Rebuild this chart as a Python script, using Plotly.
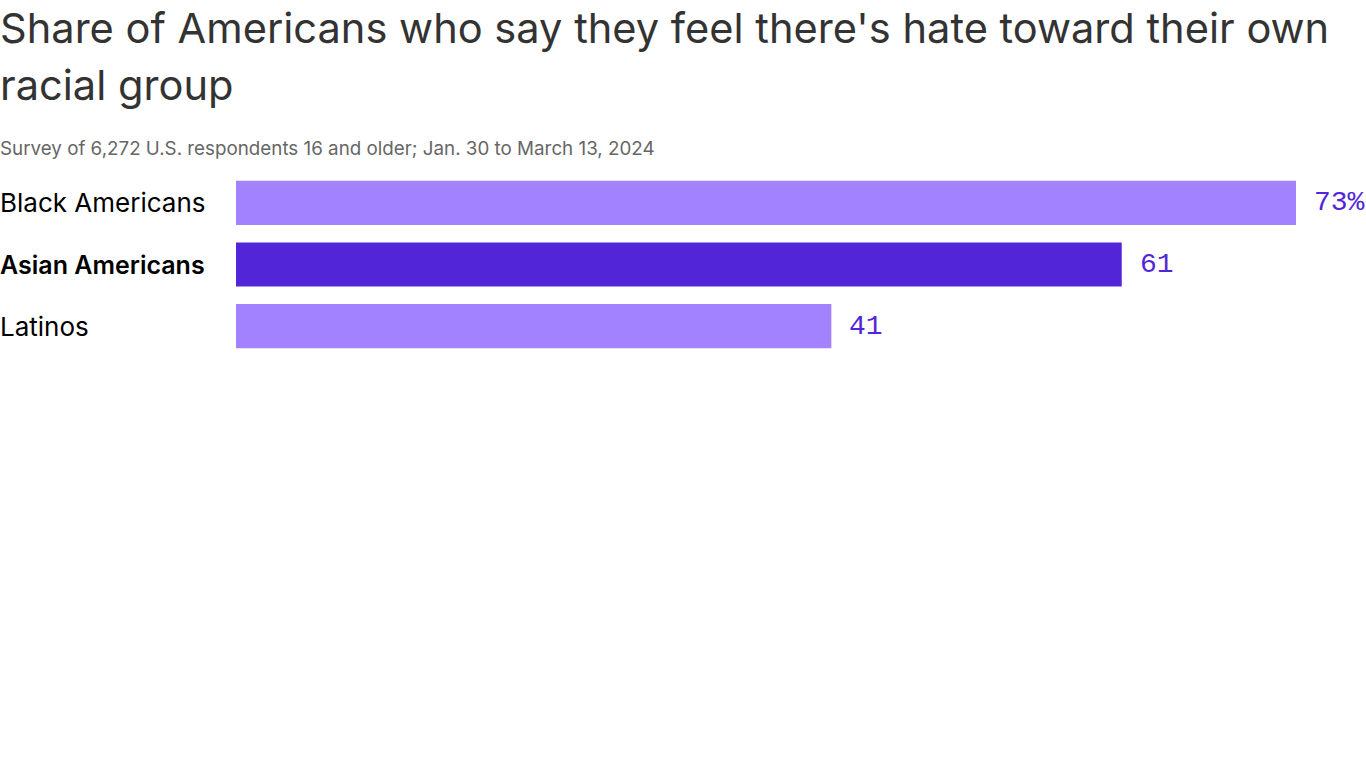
import plotly.graph_objects as go

categories = ["Black Americans", "Asian Americans", "Latinos"]
values = [73, 61, 41]
value_labels = ["73%", "61", "41"]
bar_colors = ["#A282FF", "#5226D8", "#A282FF"]
label_bold = [False, True, False]

title_lines = ["Share of Americans who say they feel there's hate toward their own",
               "racial group"]
subtitle = "Survey of 6,272 U.S. respondents 16 and older; Jan. 30 to March 13, 2024"

W, H = 1366, 768
ML, MT, MB, MR = 236, 172, 411, 0
px_per_unit = 1060 / 73
xmax = (W - ML - MR) / px_per_unit
XS = -ML - 2

fig = go.Figure()
fig.add_trace(go.Bar(
    x=values, y=categories, orientation="h",
    marker=dict(color=bar_colors, line=dict(width=0)),
    hoverinfo="x+y",
))

annotations = []
annotations.append(dict(text=title_lines[0], xref="paper", yref="paper", x=0, xshift=XS,
                        y=1, yshift=MT - 1, xanchor="left", yanchor="top", showarrow=False,
                        font=dict(family="Inter", size=41.6, color="#333333")))
annotations.append(dict(text=title_lines[1], xref="paper", yref="paper", x=0, xshift=XS,
                        y=1, yshift=MT - 58, xanchor="left", yanchor="top", showarrow=False,
                        font=dict(family="Inter", size=41.6, color="#333333")))
annotations.append(dict(text=subtitle, xref="paper", yref="paper", x=0, xshift=XS,
                        y=1, yshift=MT - 135, xanchor="left", yanchor="top", showarrow=False,
                        font=dict(family="Inter", size=18.8, color="#666666")))
for cat, v, lab, b in zip(categories, values, value_labels, label_bold):
    annotations.append(dict(text=cat, xref="paper", yref="y",
                            x=0, xshift=XS, y=cat, xanchor="left", yanchor="middle",
                            showarrow=False,
                            font=dict(family="Inter", size=25 if b else 26, color="#000000",
                                      weight=600 if b else 400)))
    annotations.append(dict(text=lab, xref="x", yref="y", x=v, y=cat, xshift=16,
                            xanchor="left", yanchor="middle", showarrow=False,
                            font=dict(family="Liberation Mono", size=28, color="#5226D8")))

fig.update_layout(
    width=W, height=H,
    margin=dict(l=ML, r=MR, t=MT, b=MB, pad=0),
    paper_bgcolor="white", plot_bgcolor="white",
    showlegend=False, bargap=0.285,
    xaxis=dict(range=[0, xmax], visible=False, fixedrange=True),
    yaxis=dict(range=[2.5, -0.5], showticklabels=False, showgrid=False,
               zeroline=False, fixedrange=True),
    annotations=annotations,
)
fig.write_html("out.html", config={"displayModeBar": False},
               post_script="document.body.style.margin='0';")
